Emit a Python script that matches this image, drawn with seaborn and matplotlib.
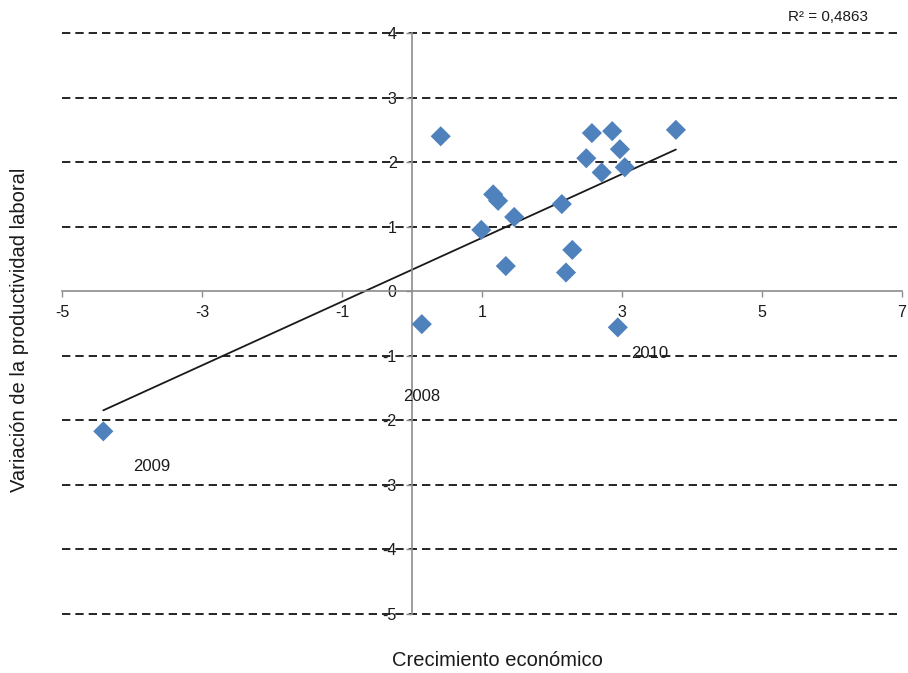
import numpy as np
import pandas as pd
import seaborn as sns
import matplotlib.pyplot as plt

# Data
crecimiento = [0.41, 0.99, 1.16, 1.23, 1.46, 1.34, 2.14, 2.20, 2.29, 2.49,
               2.57, 2.71, 2.86, 2.97, 3.04, 3.77, 0.14, 2.94, -4.41]
productividad = [2.40, 0.95, 1.50, 1.40, 1.15, 0.39, 1.35, 0.29, 0.64, 2.06,
                 2.45, 1.84, 2.48, 2.20, 1.92, 2.50, -0.51, -0.56, -2.17]
anios = ["", "", "", "", "", "", "", "", "", "",
         "", "", "", "", "", "", "2008", "2010", "2009"]
x_ticks = [-5, -3, -1, 1, 3, 5, 7]
y_ticks = [-5, -4, -3, -2, -1, 0, 1, 2, 3, 4]
r2_text = "R² = 0,4863"

df = pd.DataFrame({"x": crecimiento, "y": productividad, "anio": anios})

sns.set_theme(style="white")
plt.rcParams["font.family"] = ["Liberation Sans", "DejaVu Sans"]
plt.rcParams["axes.unicode_minus"] = False

fig = plt.figure(figsize=(9.08, 6.73), dpi=100)
ax = fig.add_axes([62 / 908, 1 - 614 / 673, 840 / 908, 581 / 673])

# Trend line and points
sns.regplot(data=df, x="x", y="y", scatter=False, ci=None, ax=ax,
            line_kws={"color": "#1a1a1a", "lw": 1.3})
sns.scatterplot(data=df, x="x", y="y", marker="D", s=105, color="#4F81BD",
                edgecolor="none", ax=ax, zorder=3)

# Year labels
offsets = {"2008": (0, -52), "2010": (23, -19), "2009": (35, -25)}
for _, r in df[df["anio"] != ""].iterrows():
    ax.annotate(r["anio"], (r["x"], r["y"]), xytext=offsets[r["anio"]],
                textcoords="offset points", ha="center", va="center",
                fontsize=12, color="#1a1a1a")

ax.set_xlim(-5, 7)
ax.set_ylim(-5, 4)
ax.set_xticks(x_ticks)
ax.set_yticks(y_ticks)
ax.set_xlabel("")
ax.set_ylabel("")

# Axes crossing at origin
for side in ["top", "right"]:
    ax.spines[side].set_visible(False)
ax.spines["left"].set_position(("data", 0))
ax.spines["bottom"].set_position(("data", 0))
for side in ["left", "bottom"]:
    ax.spines[side].set_color("#8c8c8c")
    ax.spines[side].set_linewidth(1.2)

ax.tick_params(axis="both", which="major", direction="out", length=4,
               width=1, color="#8c8c8c", labelsize=11.5, labelcolor="#1a1a1a",
               left=True, bottom=True)
ax.tick_params(axis="x", pad=6)
ax.tick_params(axis="y", pad=7)

# Dashed horizontal gridlines
ax.set_axisbelow(True)
ax.yaxis.grid(True, color="black", lw=1.2, linestyle=(0, (5, 3)))
for line, val in zip(ax.get_ygridlines(), y_ticks):
    line.set_clip_on(False)
    if val == 0:
        line.set_visible(False)

fig.text(828 / 908, 1 - 17 / 673, r2_text, ha="center", va="center",
         fontsize=11, color="#1a1a1a")
fig.text(497 / 908, 1 - 661 / 673, "Crecimiento económico", ha="center",
         va="center", fontsize=14.5, color="#1a1a1a")
fig.text(20 / 908, 1 - 330 / 673, "Variación de la productividad laboral",
         ha="center", va="center", rotation=90, fontsize=14.5, color="#1a1a1a")

fig.savefig("out.png", dpi=100)
